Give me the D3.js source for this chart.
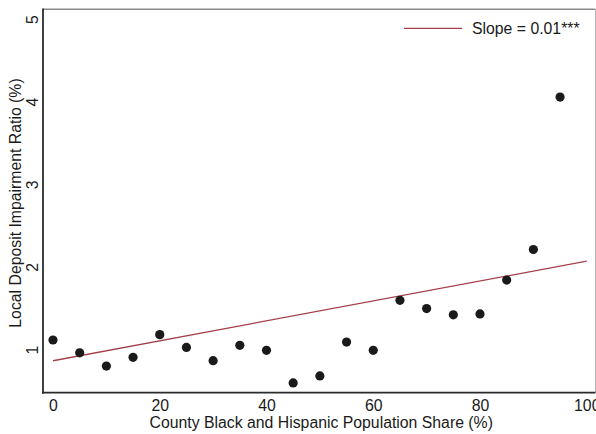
<!DOCTYPE html>
<html>
<head>
<meta charset="utf-8">
<script src="https://cdn.jsdelivr.net/npm/d3@7"></script>
<style>
  body { margin: 0; background: #fff; }
  svg { display: block; font-family: "Liberation Sans", Arial, sans-serif; }
</style>
</head>
<body>
<div id="chart"></div>
<script>
// binned scatter: county black & hispanic share vs local deposit impairment ratio
var shares = [0, 5, 10, 15, 20, 25, 30, 35, 40, 45, 50, 55, 60, 65, 70, 75, 80, 85, 90, 95];
var ratios = [1.115, 0.96, 0.80, 0.905, 1.18, 1.025, 0.865, 1.05, 0.99, 0.595, 0.68, 1.09, 0.99, 1.595, 1.495, 1.42, 1.43, 1.84, 2.21, 4.055];
var fitX = [0, 100];
var fitY = [0.864, 2.07];
var xTicks = [0, 20, 40, 60, 80, 100];
var yTicks = [1, 2, 3, 4, 5];
var legendText = 'Slope = 0.01***';
var xTitle = 'County Black and Hispanic Population Share (%)';
var yTitle = 'Local Deposit Impairment Ratio (%)';

var width = 596, height = 434;
var fontSize = '15.8px';
var ink = '#1a1a1a';
var frame = { left: 43, right: 595.5, top: 9.3, bottom: 392.7 };

var svg = d3.select('#chart').append('svg')
	.attr('width', width)
	.attr('height', height);

var x = d3.scaleLinear().domain([0, 100]).range([53, 586.75]);
var y = d3.scaleLinear().domain([1, 5]).range([349.5, 19]);

// frame: light top/right, dark left/bottom
svg.append('line')
	.attr('x1', frame.left).attr('x2', frame.right)
	.attr('y1', frame.top).attr('y2', frame.top)
	.attr('stroke', '#8a8a8a').attr('stroke-width', 1.4);
svg.append('line')
	.attr('x1', frame.right).attr('x2', frame.right)
	.attr('y1', frame.top).attr('y2', frame.bottom)
	.attr('stroke', '#b5b5b5').attr('stroke-width', 1);

// x axis labels (no tick marks)
var xAxis = d3.axisBottom(x).tickValues(xTicks).tickSize(0).tickPadding(0);
var gx = svg.append('g')
	.attr('transform', 'translate(0,' + frame.bottom + ')')
	.call(xAxis);
gx.select('.domain').remove();
gx.selectAll('text')
	.attr('y', 18.6)
	.attr('dy', null)
	.style('font-size', fontSize)
	.style('font-family', '"Liberation Sans", Arial, sans-serif')
	.attr('fill', ink);

// y axis labels, rotated
var yAxis = d3.axisLeft(y).tickValues(yTicks).tickFormat(d3.format('d')).tickSize(0).tickPadding(0);
var gy = svg.append('g')
	.attr('transform', 'translate(37.8,0)')
	.call(yAxis);
gy.select('.domain').remove();
gy.selectAll('text')
	.attr('x', 0)
	.attr('dy', null)
	.attr('text-anchor', 'middle')
	.attr('transform', 'rotate(-90)')
	.style('font-size', fontSize)
	.style('font-family', '"Liberation Sans", Arial, sans-serif')
	.attr('fill', ink);

svg.append('line')
	.attr('x1', frame.left).attr('x2', frame.left)
	.attr('y1', frame.top - 0.7).attr('y2', frame.bottom + 1)
	.attr('stroke', '#2b2b2b').attr('stroke-width', 1.8);
svg.append('line')
	.attr('x1', frame.left - 0.9).attr('x2', frame.right)
	.attr('y1', frame.bottom).attr('y2', frame.bottom)
	.attr('stroke', '#2b2b2b').attr('stroke-width', 1.8);

// fitted line
var fit = fitX.map(function(v, i){ return [v, fitY[i]]; });
svg.append('path')
	.datum(fit)
	.attr('d', d3.line().x(function(d){ return x(d[0]); }).y(function(d){ return y(d[1]); }))
	.attr('fill', 'none')
	.attr('stroke', '#a3404a')
	.attr('stroke-width', 1.3);

// points
var pts = shares.map(function(s, i){ return { s: s, r: ratios[i] }; });
svg.selectAll('circle.pt')
	.data(pts)
	.enter().append('circle')
	.attr('class', 'pt')
	.attr('cx', function(d){ return x(d.s); })
	.attr('cy', function(d){ return y(d.r); })
	.attr('r', 4.6)
	.attr('fill', ink);

// legend
svg.append('line')
	.attr('x1', 404).attr('x2', 462)
	.attr('y1', 28.3).attr('y2', 28.3)
	.attr('stroke', '#a3404a').attr('stroke-width', 1.3);
svg.append('text')
	.attr('x', 472).attr('y', 34)
	.style('font-size', fontSize)
	.attr('fill', ink)
	.text(legendText);

// axis titles
svg.append('text')
	.attr('x', (frame.left + frame.right) / 2 + 2)
	.attr('y', 428)
	.attr('text-anchor', 'middle')
	.style('font-size', fontSize)
	.attr('fill', ink)
	.text(xTitle);

svg.append('text')
	.attr('transform', 'translate(21,' + ((frame.top + frame.bottom) / 2 + 2) + ') rotate(-90)')
	.attr('text-anchor', 'middle')
	.style('font-size', fontSize)
	.attr('fill', ink)
	.text(yTitle);
</script>
</body>
</html>
